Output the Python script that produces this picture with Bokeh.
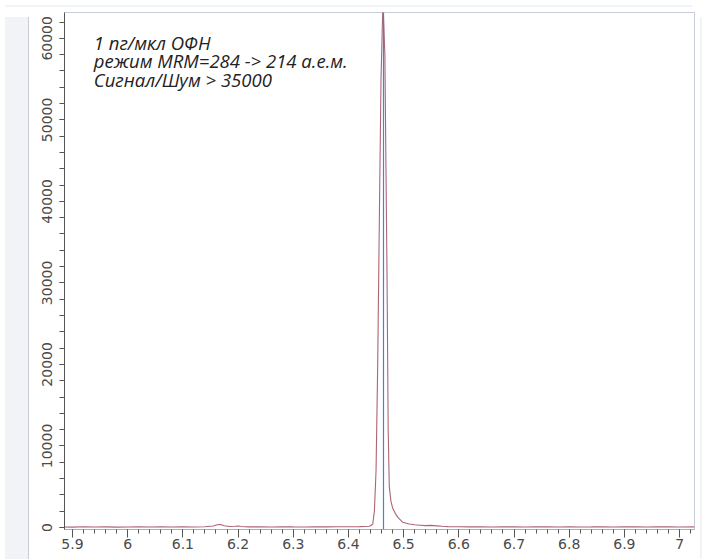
from bokeh.plotting import figure
from bokeh.models import (Range1d, FixedTicker, CustomJSTickFormatter, Label, Span,
                          Div, ColumnDataSource)
from bokeh.layouts import row, column
from bokeh.embed import file_html
from bokeh.resources import INLINE

# ---- data ----
time_min = [5.885, 5.90, 5.92, 5.94, 5.96, 5.98, 6.00, 6.02, 6.04, 6.06, 6.08, 6.10,
            6.12, 6.14, 6.155, 6.162, 6.168, 6.175, 6.185, 6.195, 6.20, 6.205, 6.22,
            6.24, 6.26, 6.28, 6.30, 6.32, 6.34, 6.36, 6.38, 6.40, 6.42, 6.438, 6.444,
            6.447, 6.450, 6.453, 6.456, 6.459, 6.4625, 6.466, 6.468, 6.470, 6.472,
            6.474, 6.477, 6.480, 6.485, 6.49, 6.498, 6.51, 6.52, 6.53, 6.54, 6.55, 6.56,
            6.57, 6.58, 6.60, 6.62, 6.64, 6.66, 6.68, 6.70, 6.72, 6.74, 6.76, 6.78,
            6.80, 6.82, 6.84, 6.86, 6.88, 6.90, 6.92, 6.94, 6.96, 6.98, 7.00, 7.027]
intensity = [60, 40, 80, 50, 70, 40, 60, 90, 50, 70, 60, 80,
             60, 90, 180, 340, 360, 220, 110, 140, 180, 110, 70,
             80, 60, 90, 70, 60, 80, 70, 90, 80, 100, 150, 400,
             2000, 7000, 20000, 38000, 55000, 64500, 58000, 44000, 30000, 12000,
             5000, 3200, 2400, 1700, 1200, 650, 420, 330, 280, 230, 260, 200,
             140, 100, 90, 70, 80, 60, 80, 70, 60, 80, 70, 60,
             80, 60, 70, 90, 60, 70, 80, 60, 70, 80, 60, 70]
marker_time = 6.4635

x_ticks = [5.9, 6.0, 6.1, 6.2, 6.3, 6.4, 6.5, 6.6, 6.7, 6.8, 6.9, 7.0]
x_minor = [round(5.88 + 0.02 * i, 2) for i in range(0, 58)]
y_ticks = [0, 10000, 20000, 30000, 40000, 50000, 60000]
y_minor = list(range(0, 62001, 2000))

annotation = ["1 пг/мкл ОФН", "режим MRM=284 -> 214 а.е.м.", "Сигнал/Шум > 35000"]
annotation_y = [59480, 57230, 54990]

GRAY = "#f2f3f7"
BORDER = "#c8ccd8"

p = figure(width=661, height=542, output_backend="svg", toolbar_location=None,
           x_range=Range1d(5.8855, 7.027), y_range=Range1d(-250, 63170),
           min_border_left=30, min_border_right=1, min_border_top=0, min_border_bottom=25,
           border_fill_color="white", background_fill_color="white")
p.outline_line_color = BORDER
p.grid.visible = False

src = ColumnDataSource(dict(t=time_min, v=intensity))
p.line("t", "v", source=src, line_color="#9c4a5c", line_width=1.1, line_alpha=0.85)
p.add_layout(Span(location=marker_time, dimension="height", line_color="#4a7ee0",
                  line_width=1.2))

for txt, yy in zip(annotation, annotation_y):
    p.add_layout(Label(x=5.9385, y=yy, text=txt, text_font="Open Sans",
                       text_font_style="italic", text_font_size="18.5px",
                       text_color="#222222", text_baseline="alphabetic"))

xa = p.xaxis[0]
xa.ticker = FixedTicker(ticks=x_ticks, minor_ticks=x_minor)
xa.formatter = CustomJSTickFormatter(code="return tick.toFixed(1).replace(/\\.0$/, '');")
xa.axis_line_color = "#b8a8b0"
xa.major_tick_line_color = "#555555"
xa.minor_tick_line_color = "#555555"
xa.major_tick_out = 8
xa.major_tick_in = 0
xa.minor_tick_out = 4
xa.minor_tick_in = 0
xa.major_label_standoff = 1
xa.major_label_text_font = "DejaVu Sans"
xa.major_label_text_font_size = "14px"
xa.major_label_text_color = "#4a4a4a"

ya = p.yaxis[0]
ya.ticker = FixedTicker(ticks=y_ticks, minor_ticks=y_minor)
ya.axis_line_color = "#555555"
ya.major_tick_line_color = "#555555"
ya.minor_tick_line_color = "#555555"
ya.major_tick_out = 5
ya.major_tick_in = 0
ya.minor_tick_out = 5
ya.minor_tick_in = 0
ya.major_label_orientation = "vertical"
ya.major_label_standoff = 7
ya.major_label_text_font = "DejaVu Sans"
ya.major_label_text_font_size = "14px"
ya.major_label_text_color = "#4a4a4a"

left = Div(width=24, height=542, styles={"background-color": GRAY,
                                         "box-shadow": f"inset -1px 0 0 {BORDER}"})
right = Div(width=2, height=542, styles={"background-color": GRAY})
top = Div(width=687, height=2, styles={"background-color": GRAY})
root = column(top, row(left, p, right, spacing=0), spacing=0)

open("out.html", "w").write(file_html(root, INLINE))
